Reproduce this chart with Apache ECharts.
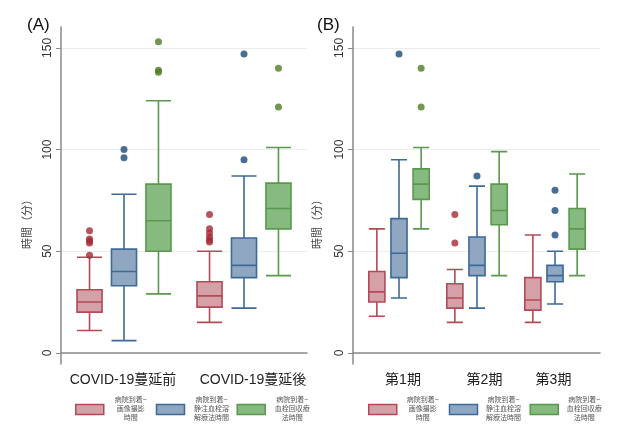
<!DOCTYPE html>
<html>
<head>
<meta charset="utf-8">
<script src="https://cdn.jsdelivr.net/npm/echarts@6/dist/echarts.min.js"></script>
<style>html,body{margin:0;padding:0;background:#fff;}#c{width:640px;height:437px;}</style>
</head>
<body>
<div id="c"></div>
<script>
// ---- data ----
const catA = ['COVID-19蔓延前', 'COVID-19蔓延後'];
const catB = ['第1期', '第2期', '第3期'];
const seriesNames = ['病院到着~\n画像撮影\n時間', '病院到着~\n静注血栓溶\n解療法時間', '病院到着~\n血栓回収療\n法時間'];
const yTicks = [0, 50, 100, 150];

// boxplot rows: [min, Q1, median, Q3, max]
const boxA_img   = [[11, 20, 25, 31, 47], [15, 22.5, 28, 35, 50]];
const boxA_iv    = [[6, 33, 40, 51, 78], [22, 37, 43, 56.5, 87]];
const boxA_evt   = [[29, 50, 65, 83, 124], [38, 61, 71, 83.5, 101]];
const outA_img   = [[0, 60], [0, 56], [0, 55], [0, 54], [0, 48], [1, 68], [1, 61], [1, 59], [1, 57], [1, 55.5], [1, 54.5]];
const outA_iv    = [[0, 100], [0, 96], [1, 147], [1, 95]];
const outA_evt   = [[0, 153], [0, 139], [0, 138], [1, 140], [1, 121]];

const boxB_img   = [[18, 25, 30, 40, 61], [15, 22, 27, 34, 41], [15, 21, 26, 37, 58]];
const boxB_iv    = [[27, 37, 49, 66, 95], [22, 38, 43, 57, 82], [24, 35, 38, 43, 50]];
const boxB_evt   = [[61, 75.5, 83, 90.5, 101], [38, 63, 70, 83, 99], [38, 51, 61, 71, 88]];
const outB_img   = [[1, 68], [1, 54]];
const outB_iv    = [[0, 147], [1, 87], [2, 80], [2, 70], [2, 58]];
const outB_evt   = [[0, 140], [0, 121]];

// ---- style ----
const FONT = "'Liberation Sans', 'Noto Sans CJK JP', sans-serif";
const fills   = ['#d5a0a7', '#8fa7c0', '#86ba80'];
const borders = ['#b04b57', '#3d6a98', '#5a994b'];
const dots    = ['#a52a37', '#1b4a7c', '#4f7d23'];
const Y_MIN = -5.5, Y_MAX = 160.3;
const TOP = 27, BOTTOM = 73;

const panels = [
  {frameLeft: 61, frameWidth: 246, dataLeft: 64, dataWidth: 240, cats: catA,
   boxes: [boxA_img, boxA_iv, boxA_evt], outs: [outA_img, outA_iv, outA_evt],
   nameGap: 28, labelShift: [-1, 9], legendLeft: 70, textW: 44, itemGap: 3, title: '(A)', titleLeft: 22},
  {frameLeft: 353, frameWidth: 247, dataLeft: 360, dataWidth: 234, cats: catB,
   boxes: [boxB_img, boxB_iv, boxB_evt], outs: [outB_img, outB_iv, outB_evt],
   nameGap: 30, labelShift: [4, 7.5, -1.5], legendLeft: 363, textW: 42, itemGap: 5, title: '(B)', titleLeft: 312}
];

const grid = [], xAxis = [], yAxis = [], series = [], legend = [], title = [];
panels.forEach((p, pi) => {
  const fi = pi * 2, di = pi * 2 + 1;
  grid.push({left: p.frameLeft, width: p.frameWidth, top: TOP, bottom: BOTTOM});
  grid.push({left: p.dataLeft, width: p.dataWidth, top: TOP, bottom: BOTTOM});
  xAxis.push({type: 'value', gridIndex: fi, min: 0, max: 1,
    axisLine: {show: true, lineStyle: {color: '#8a8a8a', width: 1.5}},
    axisTick: {show: false}, axisLabel: {show: false}, splitLine: {show: false}});
  const rich = {};
  p.labelShift.forEach((s, i) => {
    rich['s' + i] = {fontSize: 14, color: '#222', fontFamily: FONT,
      padding: s >= 0 ? [0, 0, 0, 2 * s] : [0, -2 * s, 0, 0]};
  });
  xAxis.push({type: 'category', gridIndex: di, data: p.cats,
    axisLine: {show: false}, axisTick: {show: false}, splitLine: {show: false},
    axisLabel: {margin: 9, fontSize: 14, color: '#222', fontFamily: FONT, interval: 0,
      formatter: (v, i) => '{s' + i + '|' + v + '}', rich: rich}});
  yAxis.push({type: 'value', gridIndex: fi, min: Y_MIN, max: Y_MAX,
    name: '時間（分）', nameLocation: 'middle', nameGap: p.nameGap, nameRotate: 90,
    nameTextStyle: {fontSize: 11, color: '#444', fontFamily: FONT, padding: [0, 52, 0, 0]},
    axisLine: {show: true, lineStyle: {color: '#8a8a8a', width: 1.5}},
    axisTick: {show: true, length: 5, customValues: yTicks, lineStyle: {color: '#8a8a8a'}},
    axisLabel: {customValues: yTicks, rotate: 90, margin: 7, fontSize: 12, color: '#333', fontFamily: FONT},
    splitLine: {show: true, lineStyle: {color: '#e9efef', width: 1}}});
  yAxis.push({type: 'value', gridIndex: di, min: Y_MIN, max: Y_MAX, show: false});

  // same arithmetic the boxplot layout uses, so the outlier dots sit over their boxes
  const bw = p.dataWidth / p.cats.length;
  const avail = bw * 0.8 - 2;
  const gap = avail / 3 * 0.3;
  const boxW = (avail - gap * 2) / 3;
  const step = boxW + gap;

  p.boxes.forEach((d, k) => {
    series.push({type: 'boxplot', name: seriesNames[k], xAxisIndex: di, yAxisIndex: di, data: d,
      itemStyle: {color: fills[k], borderColor: borders[k], borderWidth: 1.6},
      emphasis: {disabled: true}, silent: true});
  });
  p.outs.forEach((d, k) => {
    series.push({type: 'scatter', xAxisIndex: di, yAxisIndex: di, data: d,
      symbol: 'circle', symbolSize: 7, symbolOffset: [(k - 1) * step, 0],
      itemStyle: {color: dots[k]}, emphasis: {disabled: true}, silent: true});
  });

  legend.push({left: p.legendLeft, top: 392, orient: 'horizontal',
    data: seriesNames.map((n, k) => ({name: n, icon: 'rect',
      itemStyle: {color: fills[k], borderColor: borders[k], borderWidth: 1.5}})),
    itemWidth: 28, itemHeight: 10, itemGap: p.itemGap, selectedMode: false,
    formatter: n => n.split('\n').map(l => '{t|' + l + '}').join('\n'),
    textStyle: {rich: {t: {width: p.textW, align: 'center', fontSize: 7, lineHeight: 9, color: '#555', fontFamily: FONT}}}});
  title.push({text: p.title, left: p.titleLeft, top: 12,
    textStyle: {fontSize: 17, fontWeight: 'normal', color: '#111', fontFamily: FONT}});
});

const chart = echarts.init(document.getElementById('c'), null, {renderer: 'canvas'});
chart.setOption({backgroundColor: '#fff', animation: false, title, grid, xAxis, yAxis, series, legend});
</script>
</body>
</html>
